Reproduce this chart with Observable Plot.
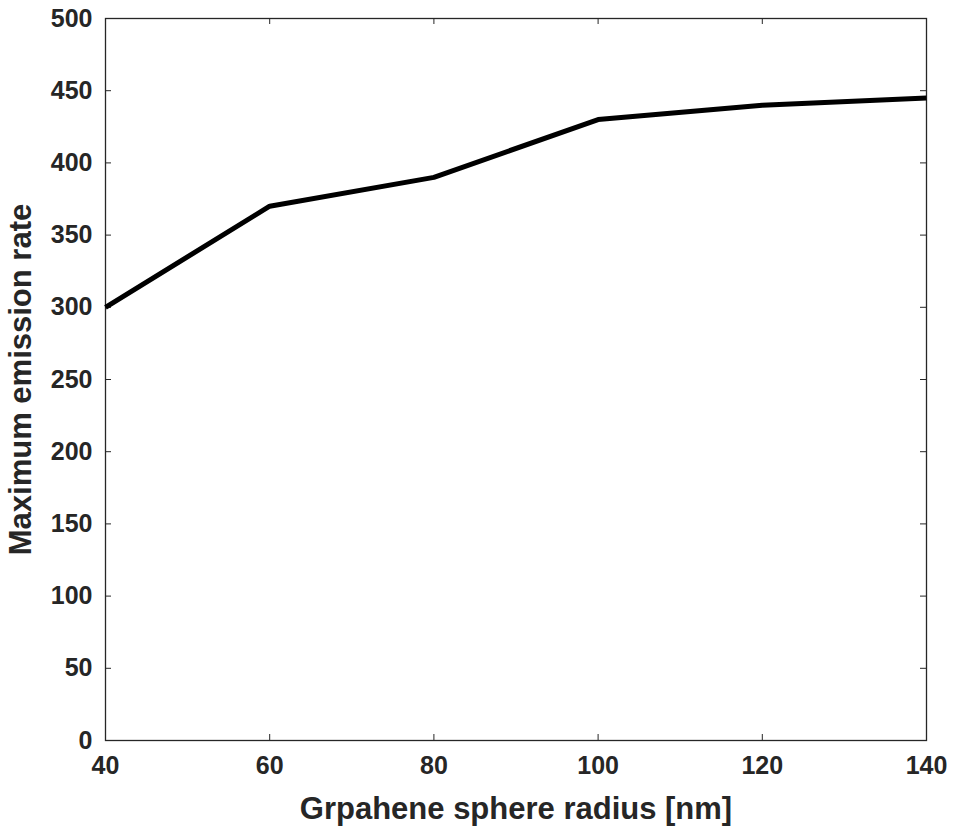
<!DOCTYPE html>
<html>
<head>
<meta charset="utf-8">
<script src="https://cdn.jsdelivr.net/npm/d3@7"></script>
<script src="https://cdn.jsdelivr.net/npm/@observablehq/plot@0.6"></script>
<style>
  html, body { margin: 0; padding: 0; background: #fff; }
</style>
</head>
<body>
<div id="chart"></div>
<script>
const radius = [40, 60, 80, 100, 120, 140];
const emission = [300, 370, 390, 430, 440, 445];
const xTicks = [40, 60, 80, 100, 120, 140];
const yTicks = [0, 50, 100, 150, 200, 250, 300, 350, 400, 450, 500];
const xLabel = "Grpahene sphere radius [nm]";
const yLabel = "Maximum emission rate";

const data = radius.map((r, i) => ({r, v: emission[i]}));

const W = 953, H = 829;
const mL = 105, mR = 27, mT = 18, mB = 89;
const pw = W - mL - mR, ph = H - mT - mB;
const ink = "#262626";
const tl = 6;

const chart = Plot.plot({
  width: W,
  height: H,
  marginLeft: mL,
  marginRight: mR,
  marginTop: mT,
  marginBottom: mB,
  style: {fontFamily: "'Liberation Sans', Arial, sans-serif", fontWeight: "bold", color: ink, background: "#fff"},
  x: {domain: [40, 140]},
  y: {domain: [0, 500]},
  marks: [
    Plot.frame({stroke: ink, strokeWidth: 1.3}),
    Plot.tickX(xTicks, {x: d => d, stroke: ink, strokeWidth: 1, insetTop: ph - tl}),
    Plot.tickX(xTicks, {x: d => d, stroke: ink, strokeWidth: 1, insetBottom: ph - tl}),
    Plot.tickY(yTicks, {y: d => d, stroke: ink, strokeWidth: 1, insetRight: pw - tl}),
    Plot.tickY(yTicks, {y: d => d, stroke: ink, strokeWidth: 1, insetLeft: pw - tl}),
    Plot.axisX(xTicks, {tickSize: 0, tickPadding: 16, fontSize: 25, fill: ink, label: null}),
    Plot.axisY(yTicks, {tickSize: 0, tickPadding: 13, fontSize: 25, fill: ink, label: null}),
    Plot.text([xLabel], {frameAnchor: "bottom", dy: 78, fontSize: 31, fill: ink, text: d => d}),
    Plot.text([yLabel], {frameAnchor: "left", dx: -84, rotate: -90, textAnchor: "middle", fontSize: 31, fill: ink, text: d => d}),
    Plot.line(data, {x: "r", y: "v", stroke: "#000", strokeWidth: 5, strokeLinejoin: "round", strokeLinecap: "butt"})
  ]
});
document.getElementById("chart").appendChild(chart);
</script>
</body>
</html>
